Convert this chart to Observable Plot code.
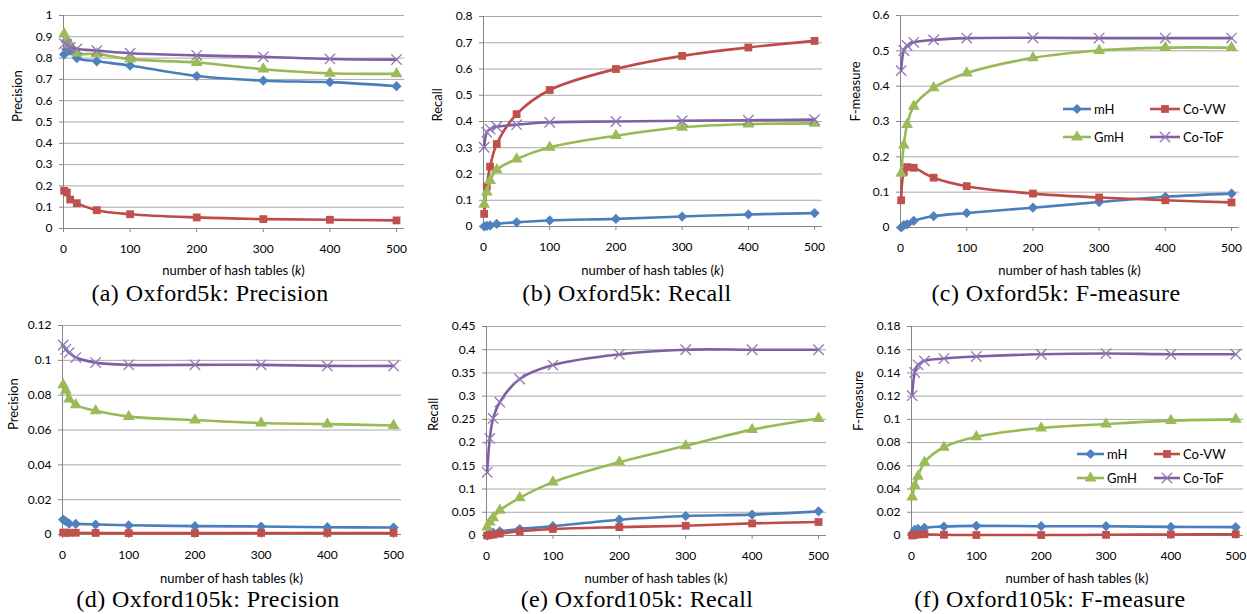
<!DOCTYPE html>
<html>
<head>
<meta charset="utf-8">
<script src="https://cdn.jsdelivr.net/npm/d3@7"></script>
<script src="https://cdn.jsdelivr.net/npm/@observablehq/plot@0.6"></script>
<style>
  html, body { margin: 0; padding: 0; background: #fff; }
  #root { position: relative; width: 1247px; height: 614px; overflow: hidden; background: #fff; }
  .panel { position: absolute; }
  .xtitle { position: absolute; font-family: Lato, "Open Sans", sans-serif; font-size: 13px; line-height: 1; color: #000; white-space: nowrap; transform: translate(-50%, -50%); }
  .caption { position: absolute; font-family: "Liberation Serif", "DejaVu Serif", serif; font-size: 24px; letter-spacing: 0.4px; line-height: 0.8; color: #000; white-space: nowrap; transform: translate(-50%, -50%); }
  #legend { position: absolute; left: 0; top: 0; pointer-events: none; }
</style>
</head>
<body>
<div id="root"></div>
<script>
// ---------- data ----------
const kValues = [1, 5, 10, 20, 50, 100, 200, 300, 400, 500];
const seriesNames = ["mH", "Co-VW", "GmH", "Co-ToF"];
const xTicks = [0, 100, 200, 300, 400, 500];

// (a) Oxford5k: Precision
const prec5k_mH    = [0.817, 0.838, 0.835, 0.800, 0.785, 0.765, 0.716, 0.694, 0.687, 0.668];
const prec5k_CoVW  = [0.177, 0.169, 0.136, 0.119, 0.086, 0.067, 0.052, 0.044, 0.041, 0.038];
const prec5k_GmH   = [0.914, 0.886, 0.862, 0.823, 0.820, 0.795, 0.779, 0.748, 0.729, 0.726];
const prec5k_CoToF = [0.867, 0.864, 0.851, 0.843, 0.835, 0.823, 0.813, 0.806, 0.796, 0.793];
// (b) Oxford5k: Recall
const rec5k_mH     = [0.000, 0.002, 0.004, 0.010, 0.016, 0.023, 0.029, 0.038, 0.046, 0.051];
const rec5k_CoVW   = [0.048, 0.153, 0.228, 0.314, 0.428, 0.520, 0.600, 0.650, 0.682, 0.707];
const rec5k_GmH    = [0.084, 0.131, 0.175, 0.216, 0.257, 0.302, 0.346, 0.378, 0.390, 0.393];
const rec5k_CoToF  = [0.302, 0.359, 0.371, 0.380, 0.388, 0.397, 0.400, 0.403, 0.405, 0.407];
// (c) Oxford5k: F-measure
const f5k_mH       = [0.000, 0.007, 0.009, 0.019, 0.032, 0.041, 0.056, 0.072, 0.087, 0.096];
const f5k_CoVW     = [0.077, 0.157, 0.171, 0.169, 0.141, 0.117, 0.096, 0.085, 0.077, 0.071];
const f5k_GmH      = [0.153, 0.233, 0.291, 0.343, 0.395, 0.437, 0.480, 0.501, 0.509, 0.509];
const f5k_CoToF    = [0.444, 0.501, 0.515, 0.524, 0.531, 0.536, 0.537, 0.536, 0.536, 0.536];
// (d) Oxford105k: Precision
const prec105k_mH    = [0.0086, 0.0076, 0.0063, 0.0061, 0.0057, 0.0053, 0.0048, 0.0046, 0.0042, 0.0040];
const prec105k_CoVW  = [0.0011, 0.0010, 0.0010, 0.0010, 0.0009, 0.0008, 0.0008, 0.0009, 0.0009, 0.0009];
const prec105k_GmH   = [0.0859, 0.0828, 0.0777, 0.0744, 0.0710, 0.0677, 0.0657, 0.0640, 0.0634, 0.0626];
const prec105k_CoToF = [0.1088, 0.1063, 0.1044, 0.1016, 0.0987, 0.0974, 0.0974, 0.0974, 0.0968, 0.0968];
// (e) Oxford105k: Recall
const rec105k_mH     = [0.000, 0.004, 0.006, 0.009, 0.014, 0.020, 0.034, 0.042, 0.045, 0.052];
const rec105k_CoVW   = [0.000, 0.001, 0.002, 0.004, 0.009, 0.014, 0.018, 0.021, 0.026, 0.029];
const rec105k_GmH    = [0.018, 0.029, 0.038, 0.054, 0.081, 0.115, 0.158, 0.193, 0.228, 0.252];
const rec105k_CoToF  = [0.136, 0.209, 0.252, 0.287, 0.337, 0.367, 0.390, 0.400, 0.400, 0.400];
// (f) Oxford105k: F-measure
const f105k_mH       = [0.0014, 0.0049, 0.0057, 0.0066, 0.0077, 0.0083, 0.0080, 0.0080, 0.0074, 0.0072];
const f105k_CoVW     = [0.0000, 0.0006, 0.0009, 0.0011, 0.0006, 0.0004, 0.0004, 0.0006, 0.0009, 0.0011];
const f105k_GmH      = [0.033, 0.043, 0.051, 0.063, 0.076, 0.085, 0.0926, 0.096, 0.0989, 0.100];
const f105k_CoToF    = [0.1204, 0.1404, 0.1470, 0.1504, 0.1524, 0.1541, 0.1561, 0.1567, 0.1561, 0.1561];

// y tick labels
const yTicksA = [0, 0.1, 0.2, 0.3, 0.4, 0.5, 0.6, 0.7, 0.8, 0.9, 1];
const yTicksB = [0, 0.1, 0.2, 0.3, 0.4, 0.5, 0.6, 0.7, 0.8];
const yTicksC = [0, 0.1, 0.2, 0.3, 0.4, 0.5, 0.6];
const yTicksD = [0, 0.02, 0.04, 0.06, 0.08, 0.1, 0.12];
const yTicksE = [0, 0.05, 0.1, 0.15, 0.2, 0.25, 0.3, 0.35, 0.4, 0.45];
const yTicksF = [0, 0.02, 0.04, 0.06, 0.08, 0.1, 0.12, 0.14, 0.16, 0.18];

const captions = [
  "(a) Oxford5k: Precision", "(b) Oxford5k: Recall", "(c) Oxford5k: F-measure",
  "(d) Oxford105k: Precision", "(e) Oxford105k: Recall", "(f) Oxford105k: F-measure"
];
const yTitles = ["Precision", "Recall", "F-measure", "Precision", "Recall", "F-measure"];

// ---------- styles ----------
const styles = {
  "mH":     {line: "#4a7ebb", fill: "#4f81bd", symbol: "diamond2", r: 4.6},
  "Co-VW":  {line: "#be4b48", fill: "#c0504d", symbol: "square",   r: 4.4},
  "GmH":    {line: "#98b954", fill: "#9bbb59", symbol: "triangle", r: 4.4},
  "Co-ToF": {line: "#7d60a0", fill: "#8f78b6", symbol: "times",    r: 4.8}
};

const panels = [
  {left: 0,   top: 0,   width: 415, mL: 63, mR: 11, mT: 15, pb: 228, ticks: yTicksA, dx: -46, italic: true,  capX: 210,  capY: 294, xtY: 270,
   series: [prec5k_mH, prec5k_CoVW, prec5k_GmH, prec5k_CoToF]},
  {left: 415, top: 0,   width: 415, mL: 68, mR: 8,  mT: 16, pb: 226, ticks: yTicksB, dx: -46, italic: true,  capX: 627,  capY: 294, xtY: 270,
   series: [rec5k_mH, rec5k_CoVW, rec5k_GmH, rec5k_CoToF]},
  {left: 830, top: 0,   width: 417, mL: 70, mR: 8,  mT: 15, pb: 227, ticks: yTicksC, dx: -45, italic: true,  capX: 1056, capY: 294, xtY: 270,
   series: [f5k_mH, f5k_CoVW, f5k_GmH, f5k_CoToF],
   legend: {rows: [109, 137], cols: [[1063, 1091, 1094], [1150, 1180, 1183]]}},
  {left: 0,   top: 307, width: 415, mL: 62, mR: 14, mT: 18, pb: 227, ticks: yTicksD, dx: -49, italic: false, capX: 208,  capY: 600, xtY: 578,
   series: [prec105k_mH, prec105k_CoVW, prec105k_GmH, prec105k_CoToF]},
  {left: 415, top: 307, width: 415, mL: 71, mR: 4,  mT: 19, pb: 228, ticks: yTicksE, dx: -53, italic: false, capX: 637,  capY: 600, xtY: 578,
   series: [rec105k_mH, rec105k_CoVW, rec105k_GmH, rec105k_CoToF]},
  {left: 830, top: 307, width: 417, mL: 81, mR: 4,  mT: 19, pb: 228, ticks: yTicksF, dx: -53, italic: false, capX: 1050, capY: 600, xtY: 578,
   series: [f105k_mH, f105k_CoVW, f105k_GmH, f105k_CoToF],
   legend: {rows: [454, 478], cols: [[1077, 1104, 1107], [1154, 1180, 1183]]}}
];

const fmt = v => String(+v.toFixed(4));
const root = document.getElementById("root");
const MB = 36;
const FONT = "Lato, 'Open Sans', sans-serif";

panels.forEach((p, pi) => {
  const yMax = p.ticks[p.ticks.length - 1];
  const marks = [
    Plot.gridY(p.ticks, {stroke: "#a8a8a8", strokeOpacity: 1, strokeWidth: 1}),
    Plot.ruleY([0], {stroke: "#868686", strokeWidth: 1}),
    Plot.ruleX([0], {stroke: "#868686", strokeWidth: 1}),
    Plot.axisX(xTicks, {tickSize: 4, tickPadding: 12, stroke: "#868686", fill: "#000", fontSize: 12, label: null, tickFormat: d => String(d)}),
    Plot.axisY(p.ticks, {tickSize: 4, tickPadding: 7, stroke: "#868686", fill: "#000", fontSize: 12, label: null, tickFormat: fmt}),
    Plot.text([yTitles[pi]], {frameAnchor: "left", dx: p.dx, rotate: -90, text: d => d, fontSize: 13, fill: "#000"})
  ];
  seriesNames.forEach((name, si) => {
    const st = styles[name];
    const rows = kValues.map((k, i) => ({k, v: p.series[si][i]}));
    marks.push(Plot.line(rows, {x: "k", y: "v", stroke: st.line, strokeWidth: 2.6, curve: "catmull-rom"}));
    if (st.symbol === "times") {
      marks.push(Plot.dot(rows, {x: "k", y: "v", symbol: "times", r: st.r, stroke: st.fill, strokeWidth: 1.3, fill: "none"}));
    } else {
      marks.push(Plot.dot(rows, {x: "k", y: "v", symbol: st.symbol, r: st.r, fill: st.fill, stroke: "none"}));
    }
  });
  const chart = Plot.plot({
    width: p.width,
    height: p.pb + MB,
    marginLeft: p.mL, marginRight: p.mR, marginTop: p.mT, marginBottom: MB,
    style: {fontFamily: FONT, fontSize: "12px", color: "#000", background: "transparent", overflow: "visible"},
    x: {domain: [0, 512]},
    y: {domain: [0, yMax]},
    marks
  });
  const div = document.createElement("div");
  div.className = "panel";
  div.style.left = p.left + "px";
  div.style.top = p.top + "px";
  div.appendChild(chart);
  root.appendChild(div);

  const xt = document.createElement("div");
  xt.className = "xtitle";
  xt.style.left = (p.left + (p.mL + p.width - p.mR) / 2) + "px";
  xt.style.top = p.xtY + "px";
  xt.innerHTML = p.italic ? "number of hash tables (<i>k</i>)" : "number of hash tables (k)";
  root.appendChild(xt);

  const cap = document.createElement("div");
  cap.className = "caption";
  cap.style.left = p.capX + "px";
  cap.style.top = p.capY + "px";
  cap.textContent = captions[pi];
  root.appendChild(cap);
});

// ---------- legends ----------
const svg = d3.select(root).append("svg").attr("id", "legend").attr("width", 1247).attr("height", 614);
const symTypes = {
  "diamond2": d3.symbolDiamond2 || d3.symbolDiamond,
  "square": d3.symbolSquare,
  "triangle": d3.symbolTriangle,
  "times": d3.symbolTimes || d3.symbolCross
};
panels.filter(p => p.legend).forEach(p => {
  seriesNames.forEach((name, si) => {
    const st = styles[name];
    const row = p.legend.rows[Math.floor(si / 2)];
    const [x0, x1, tx] = p.legend.cols[si % 2];
    const g = svg.append("g");
    g.append("line").attr("x1", x0).attr("x2", x1).attr("y1", row).attr("y2", row)
      .attr("stroke", st.line).attr("stroke-width", 2.6);
    const path = d3.symbol(symTypes[st.symbol], Math.PI * st.r * st.r)();
    const m = g.append("path").attr("d", path).attr("transform", `translate(${(x0 + x1) / 2},${row})`);
    if (st.symbol === "times") m.attr("fill", "none").attr("stroke", st.fill).attr("stroke-width", 1.3);
    else m.attr("fill", st.fill);
    g.append("text").attr("x", tx).attr("y", row).attr("dy", "0.35em")
      .attr("font-family", FONT).attr("font-size", 13).attr("fill", "#000")
      .text(name);
  });
});
</script>
</body>
</html>
